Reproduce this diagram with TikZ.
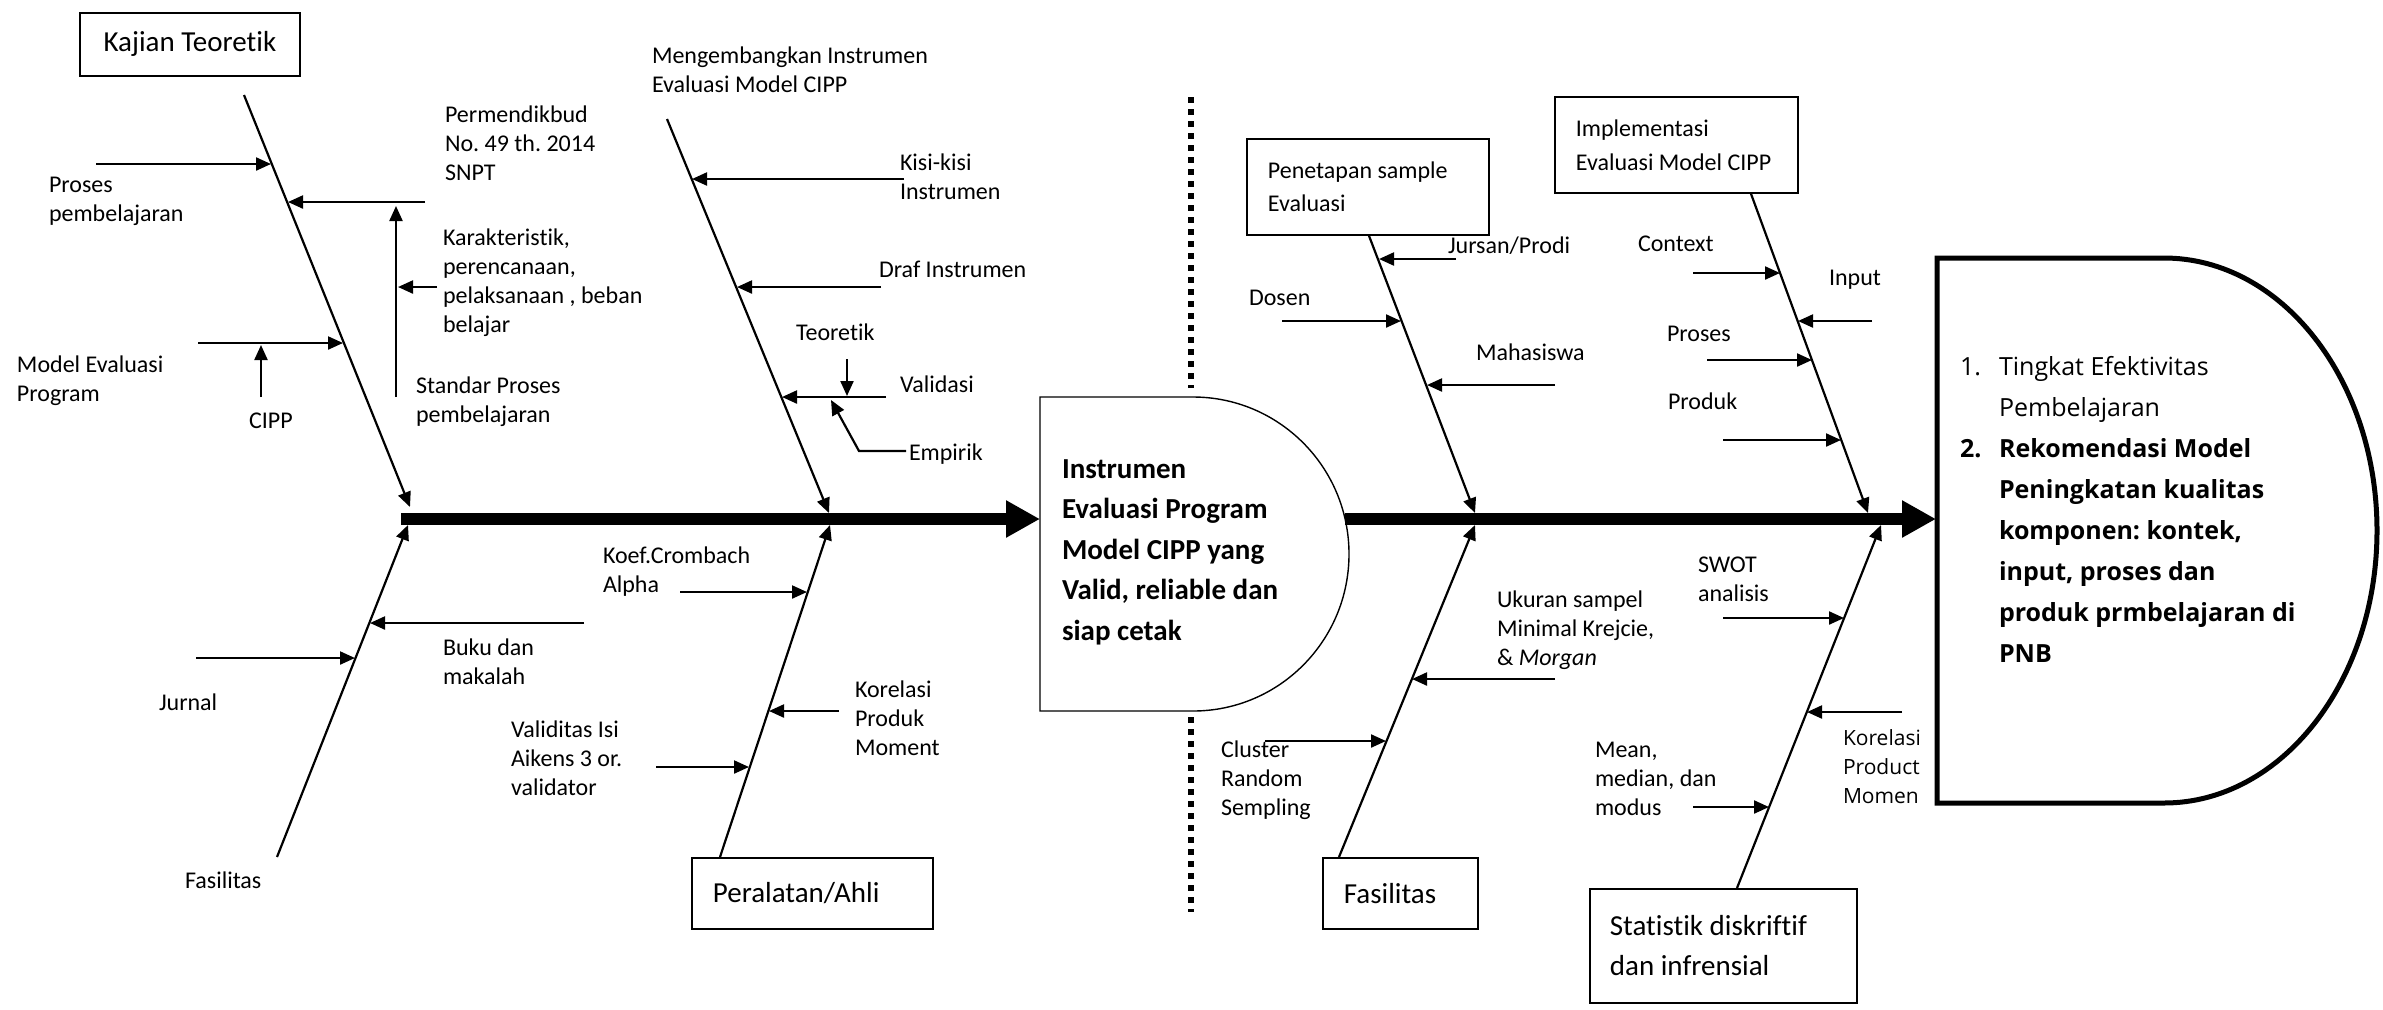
\documentclass[tikz,border=0pt]{standalone}
\usepackage{fontspec}
\setmainfont{Carlito}[Ligatures={NoCommon}]
\newfontfamily\osans{Open Sans}[Ligatures={NoCommon}]
\usetikzlibrary{arrows.meta,calc}
\frenchspacing
\newcommand{\ml}[1]{\begin{tabular}[t]{@{}l@{}}#1\end{tabular}}
\newcommand{\fbig}{\fontsize{14.5}{20}\selectfont}
\newcommand{\fsml}{\fontsize{12}{14.5}\selectfont}
\begin{document}
\begin{tikzpicture}[x=0.5pt,y=-0.5pt,
  lbl/.style={font=\fsml, anchor=base west, inner sep=0pt, outer sep=0pt},
  bone/.style={line width=1.1pt, -{Triangle[length=7.5pt,width=6.5pt]}},
  branch/.style={line width=1.1pt, -{Triangle[length=7.5pt,width=6.5pt]}},
  spine/.style={line width=6pt, -{Triangle[length=17pt,width=17.5pt]}},
  cbox/.style={draw, line width=0.9pt, anchor=north west, inner ysep=0pt, align=flush left},
  dots/.style={line width=3pt, dash pattern=on 3pt off 3pt}]
\fill[white] (0,0) rectangle (2383,1009);
\useasboundingbox (0,0) rectangle (2383,1009);

% ---------- category boxes ----------
\node[cbox, font=\fbig, minimum width=110pt, minimum height=31.5pt, inner sep=0pt, align=center] (kajian) at (79,12) {Kajian Teoretik};
\node[cbox, font=\fbig, text width=99.5pt, inner xsep=10.5pt, minimum height=35.5pt] (alat) at (691,857) {Peralatan/Ahli};
\node[cbox, font=\fontsize{12}{16.5}\selectfont, text width=100pt, inner xsep=10.5pt, minimum height=48pt] (pen) at (1246,138) {Penetapan sample\\Evaluasi};
\node[cbox, font=\fontsize{12}{17}\selectfont, text width=100.5pt, inner xsep=10.5pt, minimum height=48pt] (impl) at (1554,96) {Implementasi\\Evaluasi Model CIPP};
\node[cbox, font=\fbig, text width=56.5pt, inner xsep=10.5pt, minimum height=35.5pt] (fas2) at (1322,857) {Fasilitas};
\node[cbox, font=\fbig, text width=113.5pt, inner xsep=10pt, minimum height=57pt] (stat) at (1589,888) {Statistik diskriftif\\dan infrensial};

% ---------- result shapes ----------
\draw[line width=0.7pt] (1040,397) -- (1193,397) arc[start angle=90, end angle=-90, x radius=78pt, y radius=78.5pt] -- (1040,711) -- cycle;
\node[lbl, font=\bfseries\fontsize{14.5}{20.25}\selectfont] (hasil1) at (1062,478)
  {\ml{Instrumen\\Evaluasi Program\\Model CIPP yang\\Valid, reliable dan\\siap cetak}};
\draw[line width=2.5pt] (1937,258) -- (2164,258) arc[start angle=90, end angle=-90, x radius=106.5pt, y radius=136.25pt] -- (1937,803) -- cycle;
\node[lbl, font=\osans\fontsize{12.5}{20.57}\selectfont] (hasil2) at (1960,375)
  {\begin{tabular}[t]{@{}l@{}l@{}}
   \makebox[19.5pt][l]{1.} & Tingkat Efektivitas\\
    & Pembelajaran\\
   \makebox[19.5pt][l]{\bfseries 2.} & \textbf{Rekomendasi Model}\\
    & \textbf{Peningkatan kualitas}\\
    & \textbf{komponen: kontek,}\\
    & \textbf{input, proses dan}\\
    & \textbf{produk prmbelajaran di}\\
    & \textbf{PNB}
  \end{tabular}};

% ---------- spines ----------
\coordinate (s1s) at (401,519); \coordinate (s1e) at (1040,519);
\coordinate (s2s) at (1345,519); \coordinate (s2e) at (1936,519);
\draw[spine] (s1s) -- (s1e);
\draw[spine] (s2s) -- (s2e);

% ---------- dotted separator ----------
\coordinate (d1a) at (1191,97); \coordinate (d1b) at (1191,388);
\coordinate (d2a) at (1191,717); \coordinate (d2b) at (1191,912);
\draw[dots] (d1a) -- (d1b);
\draw[dots] (d2a) -- (d2b);

% ---------- bones ----------
\coordinate (b1s) at (244,95);  \coordinate (b1e) at (410,507);
\coordinate (b2s) at (277,857); \coordinate (b2e) at (408,525);
\coordinate (b3s) at (667,119); \coordinate (b3e) at (829,513);
\coordinate (b4s) at ([xshift=14.5pt]alat.north west); \coordinate (b4e) at (830,525);
\coordinate (b5s) at ([xshift=61.5pt]pen.south west);  \coordinate (b5e) at (1475,513);
\coordinate (b6s) at ([xshift=8.5pt]fas2.north west);  \coordinate (b6e) at (1475,525);
\coordinate (b7s) at ([xshift=98.5pt]impl.south west); \coordinate (b7e) at (1868,513);
\coordinate (b8s) at ([xshift=74pt]stat.north west);   \coordinate (b8e) at (1881,525);
\foreach \i in {1,...,8} {\draw[bone] (b\i s) -- (b\i e);}

% ---------- labels: left part ----------
\node[lbl] (tproses) at (49,192) {\ml{Proses\\pembelajaran}};
\node[lbl] (tperm) at (445,122) {\ml{Permendikbud\\No. 49 th. 2014\\SNPT}};
\node[lbl] (tkar) at (443,245) {\ml{Karakteristik,\\perencanaan,\\pelaksanaan , beban\\belajar}};
\node[lbl] (tmodel) at (17,372) {\ml{Model Evaluasi\\Program}};
\node[lbl] (tcipp) at (249,428) {CIPP};
\node[lbl] (tstandar) at (416,393) {\ml{Standar Proses\\pembelajaran}};
\node[lbl] (tbuku) at (443,655) {\ml{Buku dan\\makalah}};
\node[lbl] (tjurnal) at (159,710) {Jurnal};
\node[lbl] (tfas1) at (185,888) {Fasilitas};

\coordinate (a1s) at (96,164);  \coordinate (a1e) at (271,164);
\coordinate (a2s) at (425,202); \coordinate (a2e) at (288,202);
\coordinate (a3s) at (396,397); \coordinate (a3e) at (396,206);
\coordinate (a4s) at (437,287); \coordinate (a4e) at (398,287);
\coordinate (a5s) at (198,343); \coordinate (a5e) at (343,343);
\coordinate (a6s) at (261,397); \coordinate (a6e) at (261,345);
\coordinate (a7s) at (584,623); \coordinate (a7e) at (370,623);
\coordinate (a8s) at (196,658); \coordinate (a8e) at (355,658);
\foreach \i in {1,...,8} {\draw[branch] (a\i s) -- (a\i e);}

% ---------- labels: middle part ----------
\node[lbl] (tmeng) at (652,63) {\ml{Mengembangkan Instrumen\\Evaluasi Model CIPP}};
\node[lbl] (tkisi) at (900,170) {\ml{Kisi-kisi\\Instrumen}};
\node[lbl] (tdraf) at (879,277) {Draf Instrumen};
\node[lbl] (tteo) at (796,340) {Teoretik};
\node[lbl] (tval) at (900,392) {Validasi};
\node[lbl] (temp) at (909,460) {Empirik};
\node[lbl] (tkoef) at (603,563) {\ml{Koef.Crombach\\Alpha}};
\node[lbl] (tkorp) at (855,697) {\ml{Korelasi\\Produk\\Moment}};
\node[lbl] (tvalid) at (511,737) {\ml{Validitas Isi\\Aikens 3 or.\\validator}};

\coordinate (m1s) at (904,179); \coordinate (m1e) at (692,179);
\coordinate (m2s) at (881,287); \coordinate (m2e) at (737,287);
\coordinate (m3s) at (886,397); \coordinate (m3e) at (782,397);
\coordinate (m4s) at (847,359); \coordinate (m4e) at (847,396);
\coordinate (m5s) at (680,592); \coordinate (m5e) at (807,592);
\coordinate (m6s) at (839,711); \coordinate (m6e) at (769,711);
\coordinate (m7s) at (656,767); \coordinate (m7e) at (749,767);
\foreach \i in {1,...,7} {\draw[branch] (m\i s) -- (m\i e);}
\coordinate (empa) at (906,451); \coordinate (empb) at (859,451); \coordinate (empc) at (831,400);
\draw[branch] (empa) -- (empb) -- (empc);

% ---------- labels: right part ----------
\node[lbl] (tjur) at (1448,253) {Jursan/Prodi};
\node[lbl] (tdos) at (1249,305) {Dosen};
\node[lbl] (tmah) at (1476,360) {Mahasiswa};
\node[lbl] (tctx) at (1638,251) {Context};
\node[lbl] (tinp) at (1829,285) {Input};
\node[lbl] (tpro) at (1667,341) {Proses};
\node[lbl] (tprd) at (1668,409) {Produk};
\node[lbl] (tuk) at (1497,607) {\ml{Ukuran sampel\\Minimal Krejcie,\\\& \textit{Morgan}}};
\node[lbl] (tclu) at (1221,757) {\ml{Cluster\\Random\\Sempling}};
\node[lbl] (tswot) at (1698,572) {\ml{SWOT\\analisis}};
\node[lbl] (tmean) at (1595,757) {\ml{Mean,\\median, dan\\modus}};
\node[lbl, font=\osans\fontsize{10.5}{14.5}\selectfont] (tkorm) at (1843,745) {\ml{Korelasi\\Product\\Momen}};

\coordinate (r1s) at (1456,259); \coordinate (r1e) at (1379,259);
\coordinate (r2s) at (1282,321); \coordinate (r2e) at (1401,321);
\coordinate (r3s) at (1555,385); \coordinate (r3e) at (1427,385);
\coordinate (r4s) at (1555,679); \coordinate (r4e) at (1412,679);
\coordinate (r5s) at (1265,741); \coordinate (r5e) at (1386,741);
\coordinate (r6s) at (1693,273); \coordinate (r6e) at (1780,273);
\coordinate (r7s) at (1872,321); \coordinate (r7e) at (1798,321);
\coordinate (r8s) at (1707,360); \coordinate (r8e) at (1812,360);
\coordinate (r9s) at (1723,440); \coordinate (r9e) at (1841,440);
\coordinate (r10s) at (1723,618); \coordinate (r10e) at (1844,618);
\coordinate (r11s) at (1902,712); \coordinate (r11e) at (1807,712);
\coordinate (r12s) at (1693,807); \coordinate (r12e) at (1769,807);
\foreach \i in {1,...,12} {\draw[branch] (r\i s) -- (r\i e);}
\end{tikzpicture}
\end{document}
